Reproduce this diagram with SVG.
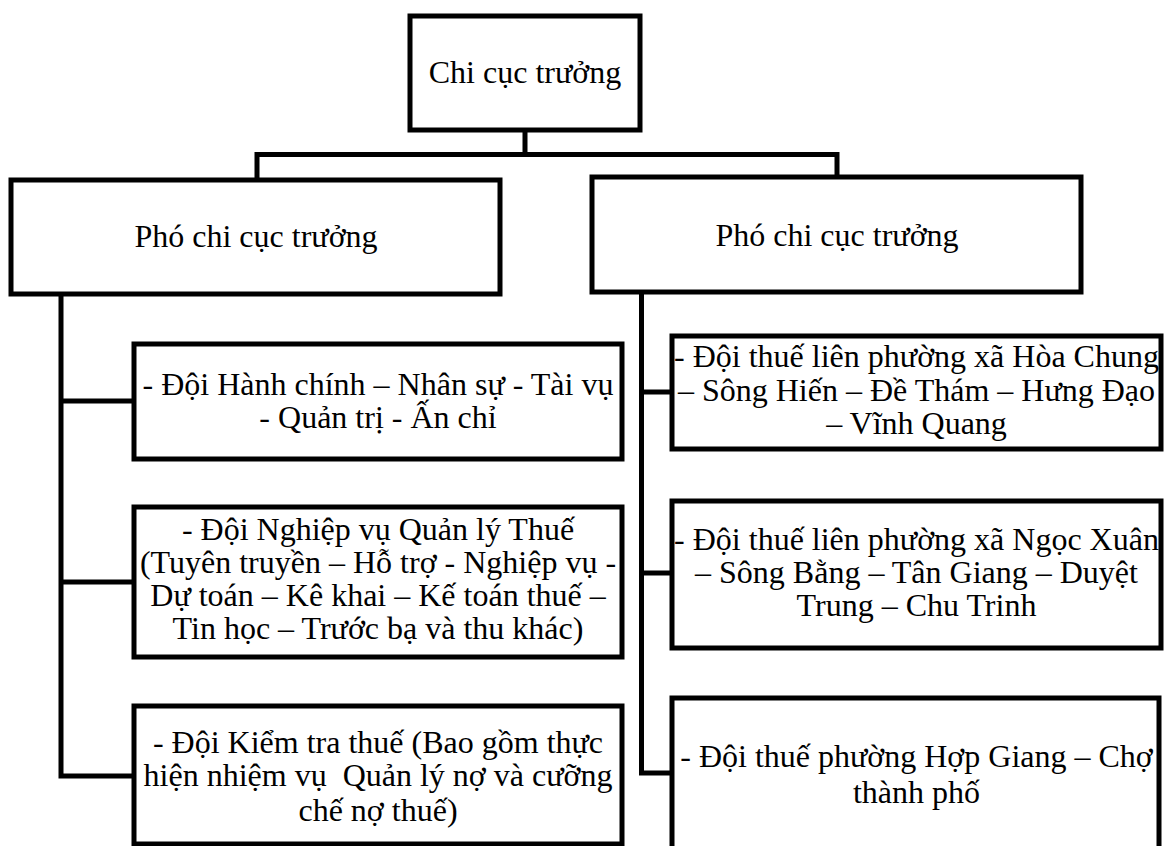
<svg xmlns="http://www.w3.org/2000/svg" width="1164" height="846" viewBox="0 0 1164 846">
<style>
.box{fill:#fff;stroke:#000;stroke-width:5;}
.ln{fill:none;stroke:#000;stroke-width:5;stroke-linejoin:miter;stroke-linecap:square;}
text{font-family:"Liberation Serif","Times New Roman",serif;font-size:32px;fill:#000;text-anchor:middle;}
</style>
<rect width="1164" height="846" fill="#fff"/>
<g id="connectors">
<path class="ln" d="M525,130 V154.5 M257,180 V154.5 H837 V177"/>
<path class="ln" d="M61,294 V776 H134 M61,401 H134 M61,582 H134"/>
<path class="ln" d="M641.5,292 V773 H672 M641.5,392 H672 M641.5,573 H672"/>
</g>
<g id="chi-cuc-truong">
<rect class="box" x="410" y="16" width="230" height="114"/>
<text x="525" y="83">Chi cục trưởng</text>
</g>
<g id="pho-chi-cuc-truong-1">
<rect class="box" x="11" y="180" width="489" height="114"/>
<text x="256" y="247">Phó chi cục trưởng</text>
</g>
<g id="pho-chi-cuc-truong-2">
<rect class="box" x="592" y="177" width="489" height="115"/>
<text x="837" y="246">Phó chi cục trưởng</text>
</g>
<g id="doi-hanh-chinh">
<rect class="box" x="134" y="344" width="488" height="115"/>
<text x="378" y="395">- Đội Hành chính – Nhân sự - Tài vụ</text>
<text x="378" y="428">- Quản trị - Ấn chỉ</text>
</g>
<g id="doi-nghiep-vu">
<rect class="box" x="134" y="507" width="488" height="150"/>
<text x="378" y="540">- Đội Nghiệp vụ Quản lý Thuế</text>
<text x="378" y="573">(Tuyên truyền – Hỗ trợ - Nghiệp vụ -</text>
<text x="378" y="606">Dự toán – Kê khai – Kế toán thuế –</text>
<text x="378" y="639">Tin học – Trước bạ và thu khác)</text>
</g>
<g id="doi-kiem-tra">
<rect class="box" x="134" y="706" width="488" height="138"/>
<text x="378" y="753">- Đội Kiểm tra thuế (Bao gồm thực</text>
<text x="378" y="786">hiện nhiệm vụ&#160; Quản lý nợ và cưỡng</text>
<text x="378" y="821">chế nợ thuế)</text>
</g>
<g id="doi-hoa-chung">
<rect class="box" x="672" y="336" width="489" height="113"/>
<text x="916.5" y="367">- Đội thuế liên phường xã Hòa Chung</text>
<text x="916.5" y="401">– Sông Hiến – Đề Thám – Hưng Đạo</text>
<text x="916.5" y="434">– Vĩnh Quang</text>
</g>
<g id="doi-ngoc-xuan">
<rect class="box" x="672" y="501" width="489" height="147"/>
<text x="916.5" y="550">- Đội thuế liên phường xã Ngọc Xuân</text>
<text x="916.5" y="583">– Sông Bằng – Tân Giang – Duyệt</text>
<text x="916.5" y="616">Trung – Chu Trinh</text>
</g>
<g id="doi-hop-giang">
<rect class="box" x="672" y="698" width="487" height="152"/>
<text x="916.5" y="767">- Đội thuế phường Hợp Giang – Chợ</text>
<text x="916.5" y="803">thành phố</text>
</g>
</svg>
